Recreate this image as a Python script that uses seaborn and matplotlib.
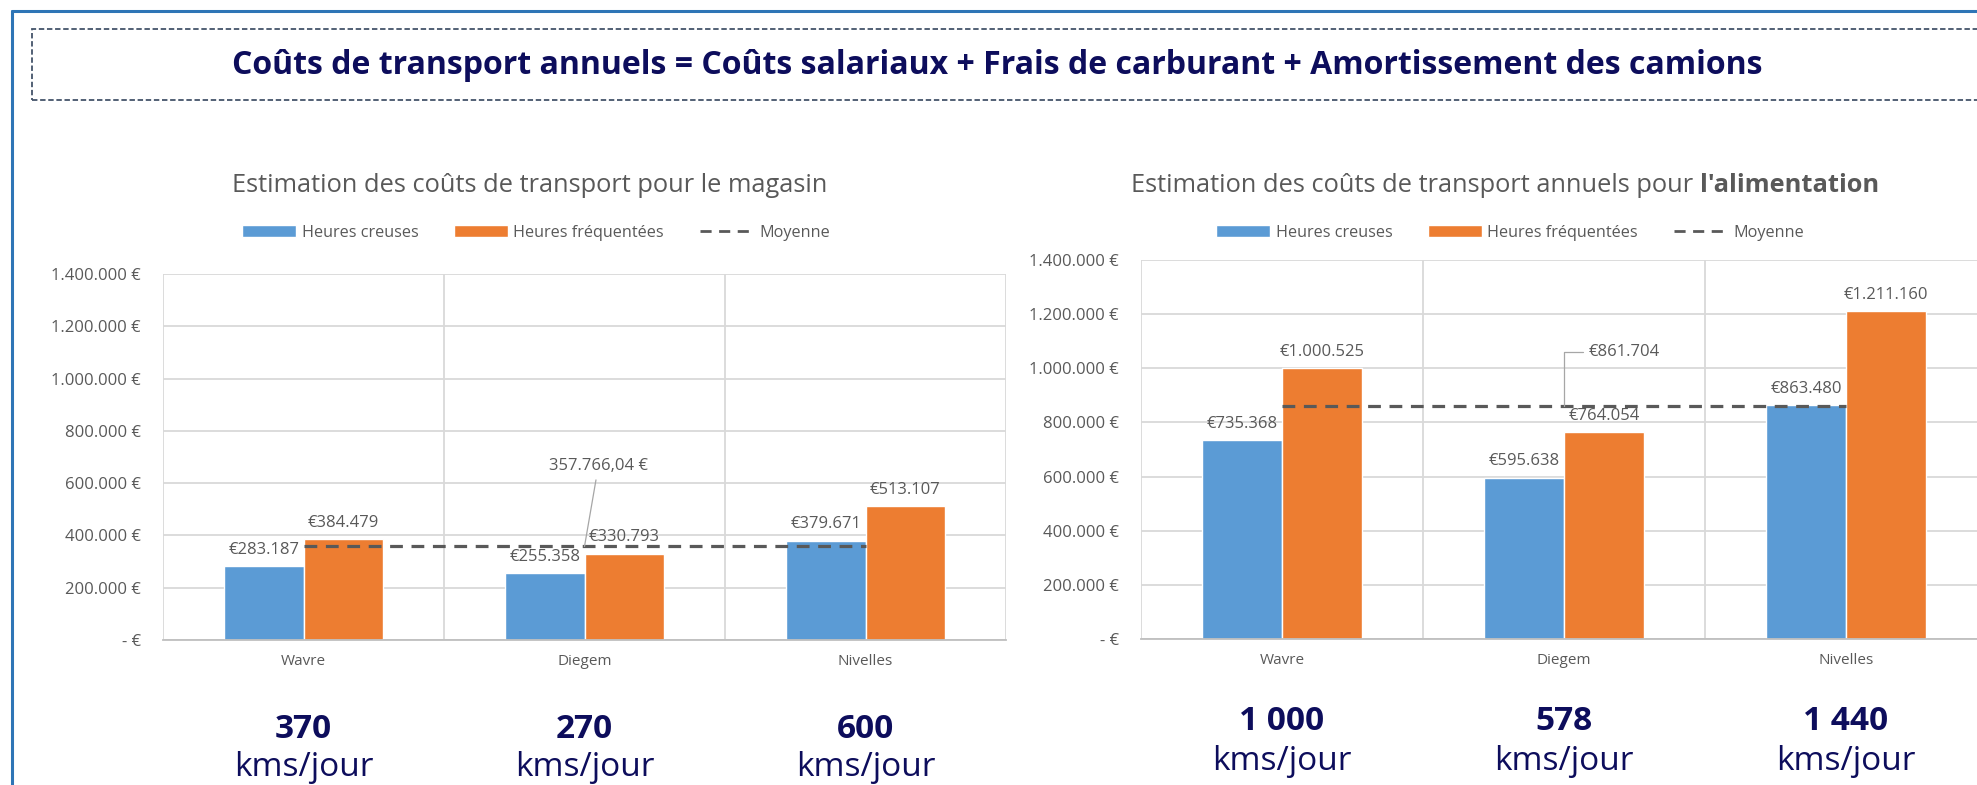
import matplotlib
matplotlib.use("Agg")
import numpy as np
import pandas as pd
import matplotlib.pyplot as plt
import matplotlib.transforms as mtransforms
from matplotlib.patches import Patch, Rectangle
from matplotlib.lines import Line2D
from matplotlib.ticker import FuncFormatter
import seaborn as sns

# --- data ---
sites = ["Wavre", "Diegem", "Nivelles"]
periodes = ["Heures creuses", "Heures fréquentées"]

magasin_creuses = [283187, 255358, 379671]
magasin_frequentees = [384479, 330793, 513107]
magasin_moyenne = 357766.04

alim_creuses = [735368, 595638, 863480]
alim_frequentees = [1000525, 764054, 1211160]
alim_moyenne = 861704

kms_magasin = [370, 270, 600]
kms_alim = [1000, 578, 1440]

y_ticks = [0, 200000, 400000, 600000, 800000, 1000000, 1200000, 1400000]

BLUE = "#5b9bd5"
ORANGE = "#ed7d31"
TEXT = "#595959"
GRID = "#d9d9d9"
NAVY = "#0d0d5c"
DASH = (0, (4, 2.7))

W, H = 1977, 785

sns.set_theme(style="white")
plt.rcParams["font.family"] = ["Open Sans", "DejaVu Sans"]


def euro_tick(v, pos):
    if v == 0:
        return "- €"
    return f"{v:,.0f} €".replace(",", ".")


def euro_label(v):
    return "€" + f"{v:,.0f}".replace(",", ".")


def draw_panel(ax, creuses, frequentees, moyenne):
    df = pd.DataFrame({
        "site": sites * 2,
        "periode": [periodes[0]] * len(sites) + [periodes[1]] * len(sites),
        "cout": creuses + frequentees,
    })
    sns.barplot(data=df, x="site", y="cout", hue="periode",
                palette=[BLUE, ORANGE], width=0.567, saturation=1,
                errorbar=None, legend=False, ax=ax, zorder=2)
    ax.set_xlim(-0.5, len(sites) - 0.5)
    ax.set_ylim(0, 1400000)
    ax.set_yticks(y_ticks)
    ax.yaxis.set_major_formatter(FuncFormatter(euro_tick))
    ax.set_xlabel("")
    ax.set_ylabel("")
    ax.grid(axis="y", color=GRID, lw=1.3)
    for b in np.arange(-0.5, len(sites), 1.0):
        ax.axvline(b, color=GRID, lw=1.3, zorder=0)
    ax.set_axisbelow(True)
    sns.despine(ax=ax, left=True)
    ax.spines["bottom"].set_color("#bfbfbf")
    ax.spines["bottom"].set_linewidth(1.3)
    ax.tick_params(axis="y", length=0, pad=16, labelsize=12, labelcolor=TEXT)
    ax.tick_params(axis="x", length=0, pad=10, labelsize=11, labelcolor=TEXT)

    ax.hlines(moyenne, 0, len(sites) - 1, colors="#595959", linestyles=DASH,
              lw=2.3, zorder=3)

    for cont in ax.containers:
        ax.bar_label(cont, labels=[euro_label(v) for v in cont.datavalues],
                     padding=6, fontsize=12, color=TEXT)


def draw_kms(ax, kms, y_num, y_unit):
    trans = mtransforms.blended_transform_factory(ax.transData, fig.transFigure)
    for i, k in enumerate(kms):
        ax.text(i, y_num, f"{k:,}".replace(",", " "), transform=trans,
                ha="center", va="center", fontsize=24, fontweight="bold",
                color=NAVY)
        ax.text(i, y_unit, "kms/jour", transform=trans, ha="center",
                va="center", fontsize=24, color=NAVY)


fig = plt.figure(figsize=(W / 100, H / 100), dpi=100)
fig.patch.set_facecolor("white")

# outer frame and dashed title box
fig.add_artist(Line2D([12 / W, 12 / W], [0, 1 - 11 / H], transform=fig.transFigure,
                      color="#2e75b6", lw=2.2))
fig.add_artist(Line2D([12 / W, 1], [1 - 11 / H, 1 - 11 / H], transform=fig.transFigure,
                      color="#2e75b6", lw=2.2))
fig.add_artist(Rectangle((32 / W, 1 - 100 / H), 1.0, 71 / H, transform=fig.transFigure,
                         fill=False, ec="#44546a", ls=(0, (3, 1.5)), lw=1.3))
fig.text(997 / W, 1 - 66 / H,
         "Coûts de transport annuels = Coûts salariaux + Frais de carburant + Amortissement des camions",
         ha="center", va="center", fontsize=23, fontweight="bold", color=NAVY)

# left panel
ax1 = fig.add_axes([163 / W, 1 - 640 / H, 843 / W, 366 / H])
draw_panel(ax1, magasin_creuses, magasin_frequentees, magasin_moyenne)
avg1 = f"{magasin_moyenne:,.2f}".replace(",", "X").replace(".", ",").replace("X", ".") + " €"
ax1.annotate(avg1, xy=(1, magasin_moyenne), xytext=(10, 58), textcoords="offset points",
             ha="center", va="center", fontsize=12, color=TEXT,
             arrowprops=dict(arrowstyle="-", color="#a6a6a6", lw=0.9, shrinkA=2, shrinkB=0))
fig.text(530 / W, 1 - 186 / H, "Estimation des coûts de transport pour le magasin",
         ha="center", va="center", fontsize=18.3, color=TEXT)

# right panel
ax2 = fig.add_axes([1141 / W, 1 - 639 / H, 846 / W, 379 / H])
draw_panel(ax2, alim_creuses, alim_frequentees, alim_moyenne)
ax2.annotate(euro_label(alim_moyenne), xy=(1, alim_moyenne), xytext=(18, 39),
             textcoords="offset points", ha="left", va="center", fontsize=12, color=TEXT,
             arrowprops=dict(arrowstyle="-", color="#a6a6a6", lw=0.9, shrinkA=2, shrinkB=0,
                             connectionstyle="angle,angleA=180,angleB=90,rad=0"))
t_reg = fig.text(0, 1 - 185 / H, "Estimation des coûts de transport annuels pour",
                 ha="left", va="center", fontsize=18.3, color=TEXT)
t_bold = fig.text(0, 1 - 185 / H, "l'alimentation",
                  ha="left", va="center", fontsize=18.3, fontweight="bold", color=TEXT)

# legends
handles = [Patch(facecolor=BLUE), Patch(facecolor=ORANGE),
           Line2D([], [], color=TEXT, ls=DASH, lw=2.0)]
labels = periodes + ["Moyenne"]
for cx in (536, 1510):
    fig.legend(handles, labels, loc="center", bbox_to_anchor=(cx / W, 1 - 233 / H),
               ncol=3, frameon=False, fontsize=11.7, handlelength=3.3, handleheight=0.75,
               handletextpad=0.35, columnspacing=2.2, labelcolor=TEXT)

# kms per day under each site
draw_kms(ax1, kms_magasin, 1 - 730 / H, 1 - 767 / H)
draw_kms(ax2, kms_alim, 1 - 721 / H, 1 - 762 / H)

# center the two-weight title of the right panel
fig.canvas.draw()
rend = fig.canvas.get_renderer()
w_reg = t_reg.get_window_extent(rend).width
w_bold = t_bold.get_window_extent(rend).width
space = 18.3 * 100 / 72 * 0.26
x0 = 1505 - (w_reg + space + w_bold) / 2
t_reg.set_x(x0 / W)
t_bold.set_x((x0 + w_reg + space) / W)

fig.savefig("out.png", dpi=100)
